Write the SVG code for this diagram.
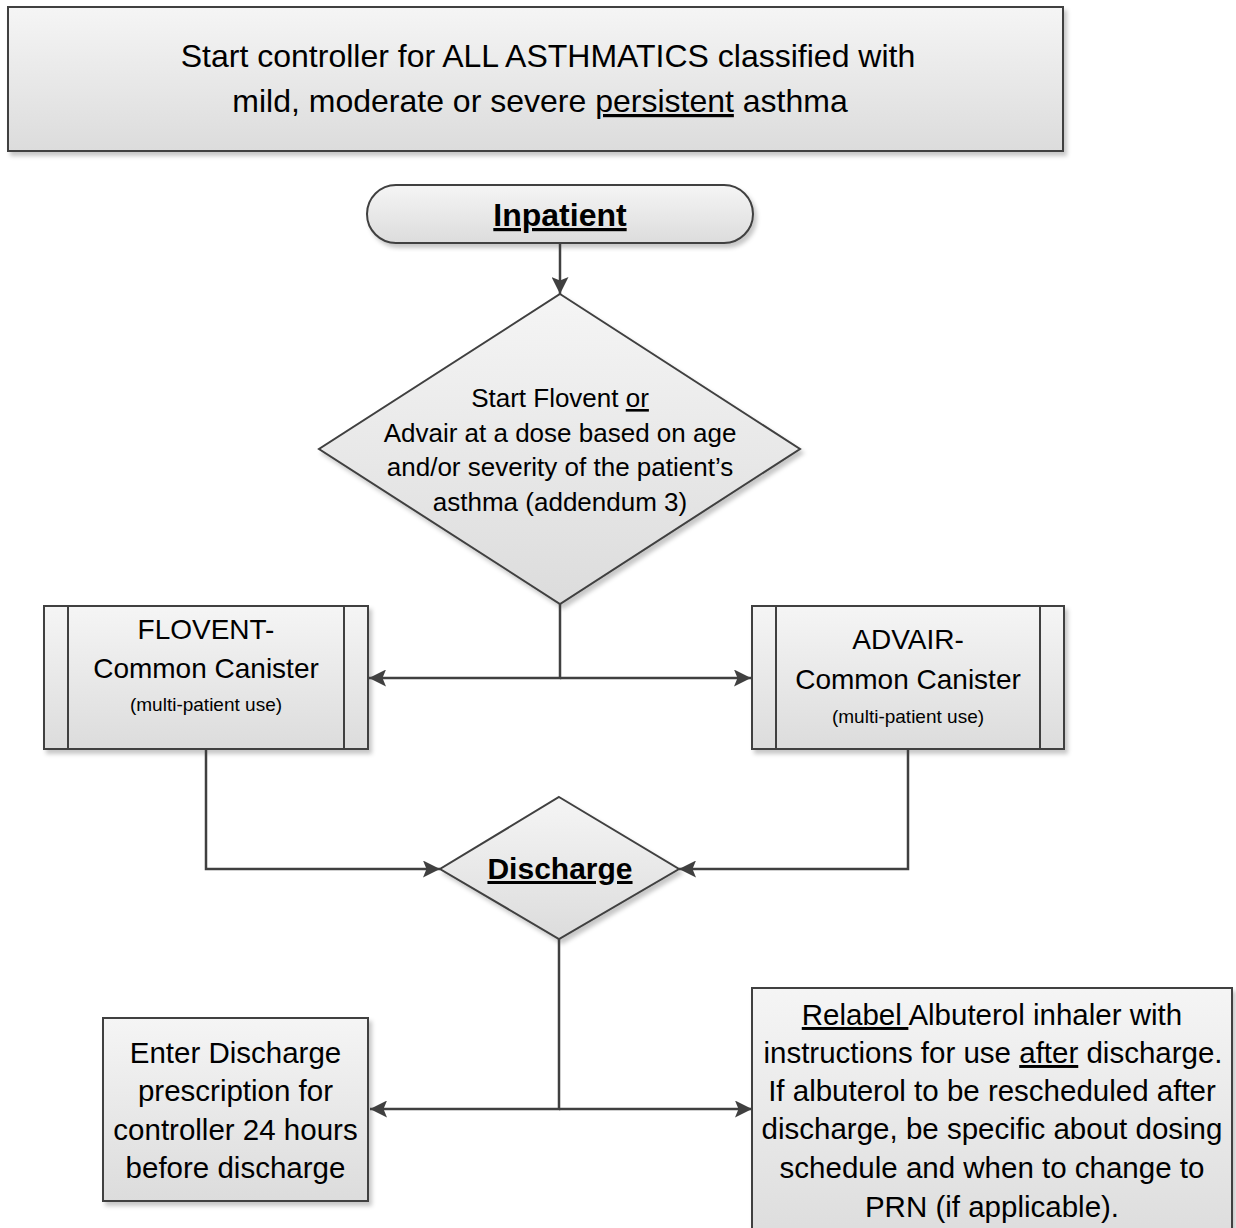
<svg xmlns="http://www.w3.org/2000/svg" width="1236" height="1228" viewBox="0 0 1236 1228">
<style>
.shape{fill:url(#g);stroke:#404040;stroke-width:2;filter:url(#sh)}
.ln{fill:none;stroke:#404040;stroke-width:2}
.conn{fill:none;stroke:#404040;stroke-width:2.5}
text{font-family:"Liberation Sans",Arial,sans-serif;fill:#000;text-anchor:middle}
.t31{font-size:32px}
.t28{font-size:28px}
.t29{font-size:29.5px}
.t26{font-size:26px}
.t19{font-size:19px}
.b{font-weight:bold}
.u{text-decoration:underline}
</style>
<defs>
<linearGradient id="g" x1="0" y1="0" x2="0" y2="1">
<stop offset="0" stop-color="#f5f5f5"/>
<stop offset="1" stop-color="#dcdcdc"/>
</linearGradient>
<filter id="sh" x="-5%" y="-5%" width="115%" height="120%">
<feDropShadow dx="3" dy="4" stdDeviation="2" flood-color="#000" flood-opacity="0.22"/>
</filter>
<marker id="ah" viewBox="0 0 17 17" refX="17" refY="8.5" markerWidth="17" markerHeight="17" markerUnits="userSpaceOnUse" orient="auto">
<path d="M0,0 L17,8.5 L0,17 L3.5,8.5 z" fill="#404040"/>
</marker>
</defs>
<rect width="1236" height="1228" fill="#fff"/>

<g id="top-box">
<rect class="shape" x="8" y="7" width="1055" height="144"/>
<text class="t31" x="548" y="67">Start controller for ALL ASTHMATICS classified with</text>
<text class="t31" x="540" y="112">mild, moderate or severe <tspan class="u">persistent</tspan> asthma</text>
</g>

<g id="inpatient">
<rect class="shape" x="367" y="185" width="386" height="58" rx="29" ry="29"/>
<text class="b u" x="560" y="226" style="font-size:32px">Inpatient</text>
</g>

<g id="start-decision">
<polygon class="shape" points="560,294 800,449 560,604 319,449"/>
<text class="t26" x="560" y="407">Start Flovent <tspan class="u">or</tspan></text>
<text class="t26" x="560" y="442">Advair at a dose based on age</text>
<text class="t26" x="560" y="476">and/or severity of the patient’s</text>
<text class="t26" x="560" y="511">asthma (addendum 3)</text>
</g>

<g id="flovent">
<rect class="shape" x="44" y="606" width="324" height="143"/>
<line class="ln" x1="68" y1="606" x2="68" y2="749"/>
<line class="ln" x1="344" y1="606" x2="344" y2="749"/>
<text class="t28" x="206" y="639">FLOVENT-</text>
<text class="t28" x="206" y="678">Common Canister</text>
<text class="t19" x="206" y="711">(multi-patient use)</text>
</g>

<g id="advair">
<rect class="shape" x="752" y="606" width="312" height="143"/>
<line class="ln" x1="776" y1="606" x2="776" y2="749"/>
<line class="ln" x1="1040" y1="606" x2="1040" y2="749"/>
<text class="t28" x="908" y="649">ADVAIR-</text>
<text class="t28" x="908" y="689">Common Canister</text>
<text class="t19" x="908" y="723">(multi-patient use)</text>
</g>

<g id="discharge">
<polygon class="shape" points="559,797 679,869 559,939 440,869"/>
<text class="b u" x="560" y="879" style="font-size:30px">Discharge</text>
</g>

<g id="enter-prescription">
<rect class="shape" x="103" y="1018" width="265" height="183"/>
<text class="t29" x="235.5" y="1063">Enter Discharge</text>
<text class="t29" x="235.5" y="1101">prescription for</text>
<text class="t29" x="235.5" y="1140">controller 24 hours</text>
<text class="t29" x="235.5" y="1178">before discharge</text>
</g>

<g id="relabel">
<rect class="shape" x="752" y="988" width="480" height="260"/>
<text class="t29" x="992" y="1025"><tspan class="u">Relabel </tspan>Albuterol inhaler with</text>
<text class="t29" x="993" y="1063">instructions for use <tspan class="u">after</tspan> discharge.</text>
<text class="t29" x="992" y="1101">If albuterol to be rescheduled after</text>
<text class="t29" x="992" y="1139">discharge, be specific about dosing</text>
<text class="t29" x="992" y="1178">schedule and when to change to</text>
<text class="t29" x="992" y="1217">PRN (if applicable).</text>
</g>

<g id="connectors">
<path class="conn" d="M560,243 V294" marker-end="url(#ah)"/>
<path class="conn" d="M560,604 V678 H369" marker-end="url(#ah)"/>
<path class="conn" d="M560,678 H751" marker-end="url(#ah)"/>
<path class="conn" d="M206,749 V869 H440" marker-end="url(#ah)"/>
<path class="conn" d="M908,749 V869 H679" marker-end="url(#ah)"/>
<path class="conn" d="M559,939 V1109 H370" marker-end="url(#ah)"/>
<path class="conn" d="M559,1109 H752" marker-end="url(#ah)"/>
</g>
</svg>
